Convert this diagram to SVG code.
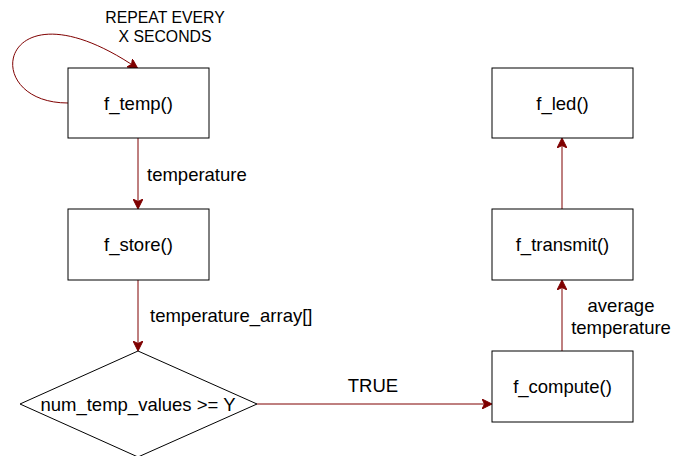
<svg xmlns="http://www.w3.org/2000/svg" width="686" height="456" viewBox="0 0 686 456">
<style>
.n{fill:#fff;stroke:#000;stroke-width:1}
.t{font-family:"Liberation Sans",Arial,sans-serif;font-size:18.5px;fill:#000;text-anchor:middle}
.l{font-family:"Liberation Sans",Arial,sans-serif;font-size:18.5px;fill:#000}
.s{font-family:"Liberation Sans",Arial,sans-serif;font-size:15.8px;fill:#000;text-anchor:middle}
.c{fill:none;stroke:#7f0000;stroke-width:1}
</style>
<defs>
<marker id="a" viewBox="0 0 10 10" refX="9" refY="5" markerWidth="10" markerHeight="10" markerUnits="userSpaceOnUse" orient="auto">
<path d="M0,0 L10,5 L0,10 L2.5,5 Z" fill="#7f0000" stroke="#7f0000"/>
</marker>
</defs>
<rect width="686" height="456" fill="#fff"/>
<g id="connectors">
<path class="c" d="M68,103 C-25,103 0,-25 137,68" marker-end="url(#a)"/>
<path class="c" d="M138,138 L138,208" marker-end="url(#a)"/>
<path class="c" d="M138,280 L138,350" marker-end="url(#a)"/>
<path class="c" d="M257,404 L491,404" marker-end="url(#a)"/>
<path class="c" d="M562,351 L562,281" marker-end="url(#a)"/>
<path class="c" d="M562,209 L562,139" marker-end="url(#a)"/>
</g>
<g id="labels">
<text class="s" x="165" y="23">REPEAT EVERY</text>
<text class="s" x="165" y="42">X SECONDS</text>
<text class="l" x="147" y="181">temperature</text>
<text class="l" x="150" y="322">temperature_array[]</text>
<text class="t" x="373" y="392">TRUE</text>
<text class="t" x="621" y="312">average</text>
<text class="t" x="621" y="334">temperature</text>
</g>
<g id="f_temp"><rect class="n" x="68" y="68" width="141" height="70"/><text class="t" x="138.5" y="110">f_temp()</text></g>
<g id="f_store"><rect class="n" x="68" y="209" width="141" height="71"/><text class="t" x="138.5" y="251">f_store()</text></g>
<g id="decision"><polygon class="n" points="138,351 257,404 138,457 20,404"/><text class="t" x="138" y="411">num_temp_values &gt;= Y</text></g>
<g id="f_compute"><rect class="n" x="492" y="351" width="141" height="71"/><text class="t" x="562.5" y="393">f_compute()</text></g>
<g id="f_transmit"><rect class="n" x="492" y="209" width="141" height="71"/><text class="t" x="562.5" y="251">f_transmit()</text></g>
<g id="f_led"><rect class="n" x="492" y="68" width="141" height="70"/><text class="t" x="562.5" y="110">f_led()</text></g>
</svg>
